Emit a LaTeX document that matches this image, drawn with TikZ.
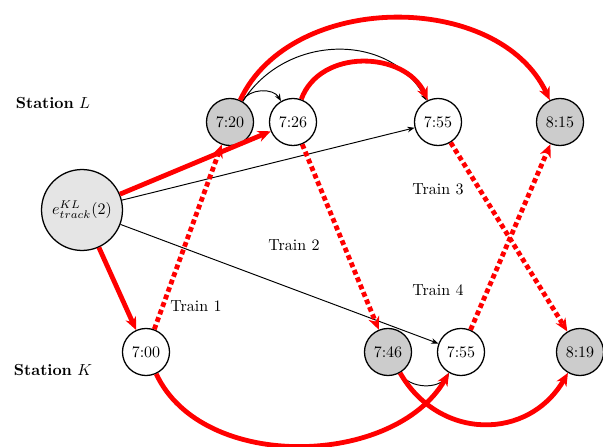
\documentclass[tikz,border=0pt]{standalone}
\usetikzlibrary{arrows.meta}
\begin{document}
\begin{tikzpicture}[x=0.625pt,y=-0.625pt,
  tnode/.style={circle,draw,line width=0.8pt,minimum size=29.4pt,inner sep=0pt},
  grey/.style={fill=black!20},
  redarr/.style={red,line width=3pt,-{Stealth[length=8pt,width=7pt,inset=2.5pt]}},
  reddot/.style={redarr,dash pattern=on 3pt off 2pt},
  blk/.style={black,line width=0.6pt,-{Stealth[length=4.5pt,width=3.5pt]}},
  lbl/.style={inner sep=0pt}]
\useasboundingbox (0,0) rectangle (603,447);
% nodes
\node[tnode,grey] (a720) at (230,122) {7:20};
\node[tnode] (a726) at (293,122) {7:26};
\node[tnode] (a755) at (438,122) {7:55};
\node[tnode,grey] (a815) at (560,122) {8:15};
\node[tnode] (b700) at (146,352) {7:00};
\node[tnode,grey] (b746) at (388,352) {7:46};
\node[tnode] (b755) at (461,352) {7:55};
\node[tnode,grey] (b819) at (580,352) {8:19};
\node[circle,draw,line width=0.8pt,fill=black!10,minimum size=50.6pt,inner sep=0pt] (e) at (82,210) {$e^{KL}_{track}(2)$};
% labels
\node[lbl] (sL) at (53,103) {\textbf{Station} $L$};
\node[lbl] (sK) at (53,370) {\textbf{Station} $K$};
\node[lbl] (t1) at (196,306) {Train 1};
\node[lbl] (t2) at (294,245) {Train 2};
\node[lbl] (t3) at (438,189) {Train 3};
\node[lbl] (t4) at (438,290) {Train 4};
% black connectors
\draw[blk] (e) -- (a755);
\draw[blk] (e) -- (b755);
\draw[blk] (a720) to[out=60,in=120] (a726);
\draw[blk] (a720) to[out=58,in=118,looseness=1.1] (a755);
\draw[blk] (b746) to[out=-60,in=-120] (b755);
% red solid connectors
\draw[redarr] (e) -- (a726);
\draw[redarr] (e) -- (b700);
\draw[redarr] (a720) to[out=65,in=115] (a815);
\draw[redarr] (a726) to[out=70,in=115,looseness=1.1] (a755);
\draw[redarr] (b700) to[out=-65,in=-120,looseness=0.95] (b755);
\draw[redarr] (b746) to[out=-60,in=-120,looseness=1.2] (b819);
% red dotted connectors
\draw[reddot] (b700) -- (a720);
\draw[reddot] (a726) -- (b746);
\draw[reddot] (a755) -- (b819);
\draw[reddot] (b755) -- (a815);
\end{tikzpicture}
\end{document}
